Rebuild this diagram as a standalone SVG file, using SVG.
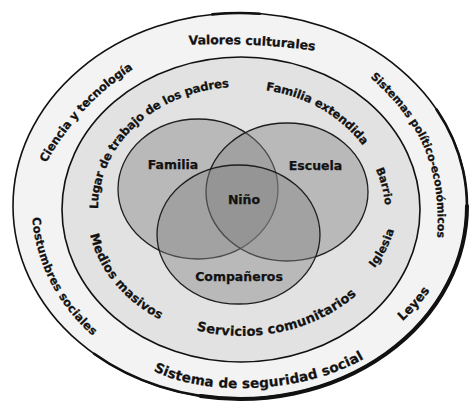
<svg xmlns="http://www.w3.org/2000/svg" width="471" height="407" viewBox="0 0 471 407">
<style>
.lbl{font-family:"DejaVu Sans","Liberation Sans",sans-serif;font-weight:bold;fill:#121212;stroke:#121212;stroke-width:0.25;}
.venn{fill:#838383;fill-opacity:0.43;stroke:#1e1e1e;stroke-width:1.3;}
.ring{stroke:#111;stroke-width:1.6;}
.edge{fill:none;stroke:#111;stroke-linecap:round;}
</style>
<defs>
<path id="p-valores" d="M186,41 Q252,38 318,47"/>
<path id="p-ciencia" d="M42,162 Q77,100 132,65"/>
<path id="p-sistemas" d="M370,73 C410,110 446,150 440,241"/>
<path id="p-costumbres" d="M36,214 C38,260 62,305 98,335"/>
<path id="p-leyes" d="M398,320 Q415,305 428,286"/>
<path id="p-seguridad" d="M153,366 C200,392 300,392 364,354"/>
<path id="p-lugar" d="M94,211 A146,126 0 0 1 231,83"/>
<path id="p-famext" d="M263,86 A146,126 0 0 1 368,146"/>
<path id="p-barrio" d="M378,167 A146,126 0 0 1 388,206"/>
<path id="p-iglesia" d="M370,269 A152,124 0 0 0 392,226"/>
<path id="p-servicios" d="M192,325 A152,124 0 0 0 358,288"/>
<path id="p-medios" d="M93,229 A152,124 0 0 0 166,318"/>
</defs>
<rect width="471" height="407" fill="#ffffff"/>
<g id="entorno-externo">
<ellipse class="ring" cx="240" cy="206" rx="227" ry="193" fill="#f3f3f3"/>
<path class="edge" stroke-width="2.6" d="M436.6,109.5 A227,193 0 0 1 94.1,353.8"/>
<path class="edge" stroke-width="4" d="M467,206 A227,193 0 0 1 200.6,396.1"/>
<path class="edge" stroke-width="2.6" d="M212.3,14.4 A227,193 0 0 1 259.8,13.7"/>
<text class="lbl" font-size="12.5" dominant-baseline="middle"><textPath href="#p-valores" startOffset="50%" text-anchor="middle">Valores culturales</textPath></text>
<text class="lbl" font-size="11.6" dominant-baseline="middle"><textPath href="#p-ciencia" startOffset="50%" text-anchor="middle">Ciencia y tecnología</textPath></text>
<text class="lbl" font-size="11" dominant-baseline="middle"><textPath href="#p-sistemas" startOffset="50%" text-anchor="middle">Sistemas político-económicos</textPath></text>
<text class="lbl" font-size="11.5" dominant-baseline="middle"><textPath href="#p-costumbres" startOffset="50%" text-anchor="middle">Costumbres sociales</textPath></text>
<text class="lbl" font-size="12.5" dominant-baseline="middle"><textPath href="#p-leyes" startOffset="50%" text-anchor="middle">Leyes</textPath></text>
<text class="lbl" font-size="13.5" dominant-baseline="middle"><textPath href="#p-seguridad" startOffset="50%" text-anchor="middle">Sistema de seguridad social</textPath></text>
</g>
<g id="entorno-cercano">
<ellipse class="ring" cx="241" cy="209.5" rx="179" ry="152.5" fill="#e2e2e2"/>
<text class="lbl" font-size="11.7" dominant-baseline="middle"><textPath href="#p-lugar" startOffset="50%" text-anchor="middle">Lugar de trabajo de los padres</textPath></text>
<text class="lbl" font-size="11.7" dominant-baseline="middle"><textPath href="#p-famext" startOffset="50%" text-anchor="middle">Familia extendida</textPath></text>
<text class="lbl" font-size="11" dominant-baseline="middle"><textPath href="#p-barrio" startOffset="50%" text-anchor="middle">Barrio</textPath></text>
<text class="lbl" font-size="11.3" dominant-baseline="middle"><textPath href="#p-iglesia" startOffset="50%" text-anchor="middle">Iglesia</textPath></text>
<text class="lbl" font-size="13" dominant-baseline="middle"><textPath href="#p-servicios" startOffset="50%" text-anchor="middle">Servicios comunitarios</textPath></text>
<text class="lbl" font-size="12.3" dominant-baseline="middle"><textPath href="#p-medios" startOffset="50%" text-anchor="middle">Medios masivos</textPath></text>
</g>
<g id="familia">
<ellipse class="venn" cx="198" cy="189" rx="80" ry="70"/>
</g>
<g id="escuela">
<ellipse class="venn" cx="287" cy="192" rx="81" ry="69"/>
</g>
<g id="companeros">
<ellipse class="venn" cx="238.5" cy="234.5" rx="81.5" ry="69.5"/>
</g>
<g id="etiquetas-venn">
<text class="lbl" font-size="12.5" x="173" y="168.5" text-anchor="middle">Familia</text>
<text class="lbl" font-size="12.5" x="315.5" y="170" text-anchor="middle">Escuela</text>
<text class="lbl" font-size="12.5" x="244" y="203.5" text-anchor="middle">Niño</text>
<text class="lbl" font-size="12.5" x="239" y="280.5" text-anchor="middle">Compañeros</text>
</g>
<g id="connectors"/>
</svg>
